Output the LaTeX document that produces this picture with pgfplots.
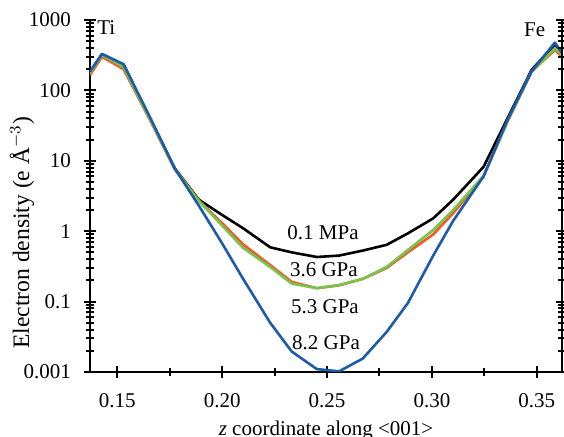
\documentclass[border=0pt]{standalone}
\usepackage{fontspec}
\setmainfont{Liberation Serif}
\usepackage{pgfplots}
\pgfplotsset{compat=1.18}
\usepackage{pgfplotstable}
\definecolor{cOr}{RGB}{240,90,40}
\definecolor{cGr}{RGB}{120,195,75}
\definecolor{cBl}{RGB}{30,90,170}
\newcommand\fs{\fontsize{10.5}{12.6}\selectfont}

\pgfplotstableread{
z      black  orange green  blue
0.137  180    165    175    185
0.1427 325    300    320    330
0.1530 232    200    215    235
0.1652 42     40     41     44
0.1774 7.8    7.6    7.6    7.8
0.1889 2.8    2.7    2.7    2.3
0.2000 1.7    1.3    1.2    0.67
0.2100 1.1    0.65   0.58   0.21
0.2229 0.59   0.33   0.31   0.05
0.2332 0.50   0.19   0.18   0.0195
0.2451 0.43   0.155  0.155  0.011
0.2557 0.45   0.17   0.172  0.0102
0.2670 0.53   0.21   0.21   0.0155
0.2784 0.64   0.30   0.31   0.037
0.2885 0.93   0.50   0.54   0.095
0.3006 1.52   0.90   1.04   0.45
0.3101 2.8    1.8    2.0    1.4
0.3246 8.2    6.0    6.1    6.0
0.3360 40     36     36     38
0.3475 195    185    185    185
0.3586 450    375    396    477
0.3620 330    300    320    340
}\datatab

\begin{document}
\begin{tikzpicture}
\begin{axis}[name=ax, width=236pt, height=176pt, scale only axis,
  xmin=0.137, xmax=0.362, ymode=log, ymin=0.01, ymax=1000,
  axis x line*=bottom, axis y line*=left,
  axis line style={line width=1pt,-},
  tick align=center, major tick length=6pt, minor tick length=4pt,
  every tick/.style={line width=1pt, black},
  xtick={0.15,0.2,0.25,0.3,0.35}, xticklabels={0.15,0.20,0.25,0.30,0.35},
  minor xtick={0.175,0.225,0.275,0.325},
  ytick={0.01,0.1,1,10,100,1000}, yticklabels={0.001,0.1,1,10,100,1000},
  minor ytick={0.02,0.03,0.04,0.05,0.06,0.07,0.08,0.09,0.2,0.3,0.4,0.5,0.6,0.7,0.8,0.9,2,3,4,5,6,7,8,9,20,30,40,50,60,70,80,90,200,300,400,500,600,700,800,900},
  /pgf/number format/assume math mode=true,
  tick label style={font=\fs},
  xticklabel style={yshift=-4pt},
  yticklabel style={xshift=-3pt},
  every axis x label/.style={at={(axis description cs:0.5,-0.165)}, anchor=center, font=\fs},
  every axis y label/.style={at={(axis description cs:-0.144,0.395)}, anchor=center, rotate=90, font=\fontsize{11.8}{14}\selectfont},
  xlabel={\textit{z} coordinate along <001>},
  ylabel={Electron density (e Å$^{-3}$)},
]
\addplot[black, line width=1.3pt, line join=round] table[x=z,y=black]{\datatab};
\addplot[cOr, line width=1.3pt, line join=round] table[x=z,y=orange]{\datatab};
\addplot[cGr, line width=1.3pt, line join=round] table[x=z,y=green]{\datatab};
\addplot[cBl, line width=1.3pt, line join=round] table[x=z,y=blue]{\datatab};
\node[font=\fs] at (axis cs:0.1448,770) {Ti};
\node[font=\fs] at (axis cs:0.349,720) {Fe};
\node[font=\fs] at (axis cs:0.2481,0.94) {0.1 MPa};
\node[font=\fs] at (axis cs:0.2485,0.28) {3.6 GPa};
\node[font=\fs] at (axis cs:0.249,0.084) {5.3 GPa};
\node[font=\fs] at (axis cs:0.2495,0.0257) {8.2 GPa};
\end{axis}
\begin{axis}[width=236pt, height=176pt, scale only axis,
  xmin=0.137, xmax=0.362, ymode=log, ymin=0.01, ymax=1000,
  axis x line=none, axis y line*=right,
  axis line style={line width=1pt,-},
  tick align=center, major tick length=6pt, minor tick length=4pt,
  every tick/.style={line width=1pt, black},
  ytick={0.01,0.1,1,10,100,1000}, yticklabels={},
  minor ytick={0.02,0.03,0.04,0.05,0.06,0.07,0.08,0.09,0.2,0.3,0.4,0.5,0.6,0.7,0.8,0.9,2,3,4,5,6,7,8,9,20,30,40,50,60,70,80,90,200,300,400,500,600,700,800,900},
]
\end{axis}
\pgfresetboundingbox
\path[use as bounding box] ([xshift=-45pt,yshift=-32.5pt]ax.south west) rectangle ([xshift=1pt,yshift=10pt]ax.north east);
\end{tikzpicture}
\end{document}
